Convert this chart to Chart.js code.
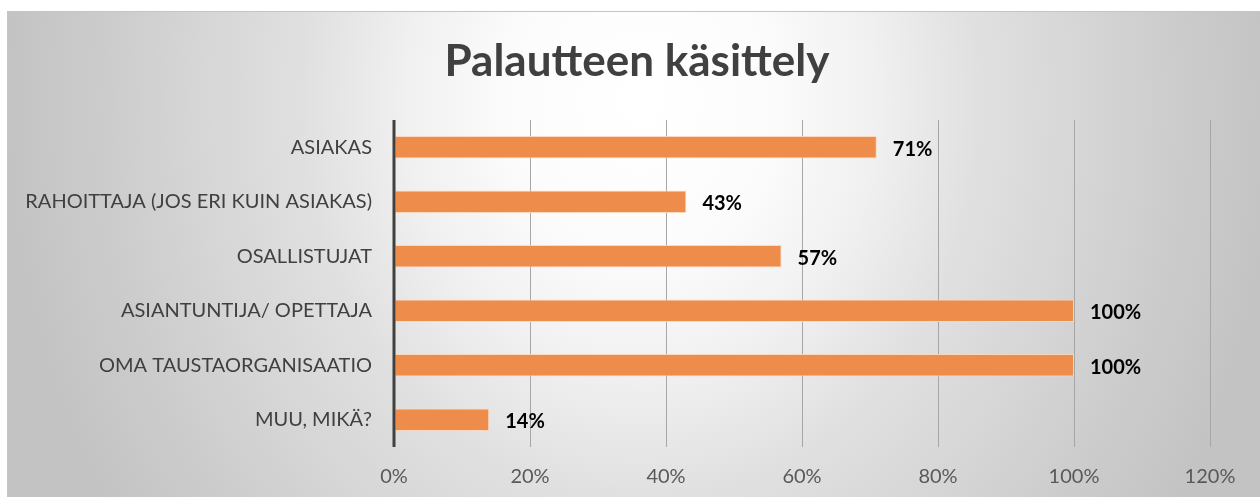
<!DOCTYPE html>
<html>
<head>
<meta charset="utf-8">
<script src="https://cdn.jsdelivr.net/npm/chart.js@4.4.1/dist/chart.umd.min.js"></script>
<style>
  html, body { margin: 0; padding: 0; background: #fff; width: 1260px; height: 497px; overflow: hidden; }
  #bg { position: absolute; left: 7px; top: 11px; width: 1253px; height: 486px;
        border-top: 1px solid #c4c4c4; border-left: 1px solid #c4c4c4; box-sizing: border-box;
        background: radial-gradient(ellipse 640px 750px at 633px 89px, #ffffff 0%, #fcfcfc 20%, #f0f0f0 37%, #e0e0e0 53%, #d6d6d6 69%, #cccccc 84%, #c3c3c3 100%); }
  #wrap { position: absolute; left: 0; top: 0; width: 1260px; height: 497px; }
  canvas { display: block; }
</style>
</head>
<body>
<div id="bg"></div>
<div id="wrap"><canvas id="c" width="1260" height="497" style="width:1260px;height:497px"></canvas></div>
<script>
const titleText = "Palautteen käsittely";
const categories = ["ASIAKAS", "RAHOITTAJA (JOS ERI KUIN ASIAKAS)", "OSALLISTUJAT", "ASIANTUNTIJA/ OPETTAJA", "OMA TAUSTAORGANISAATIO", "MUU, MIKÄ?"];
const values = [71, 43, 57, 100, 100, 14];
const tickValues = [0, 20, 40, 60, 80, 100, 120];

const FONT = "Lato, 'Open Sans', sans-serif";

const titlePlugin = {
  id: 'titlePlugin',
  afterDraw(chart) {
    const ctx = chart.ctx;
    ctx.save();
    ctx.font = "bold 44px " + FONT;
    ctx.fillStyle = "#404040";
    ctx.textAlign = "center";
    ctx.textBaseline = "middle";
    ctx.fillText(titleText, 637, 62);
    ctx.restore();
  }
};

const dataLabels = {
  id: 'dataLabels',
  afterDatasetsDraw(chart) {
    const ctx = chart.ctx;
    const meta = chart.getDatasetMeta(0);
    ctx.save();
    ctx.font = "bold 20px " + FONT;
    ctx.fillStyle = "#000";
    ctx.textAlign = "left";
    ctx.textBaseline = "middle";
    meta.data.forEach((bar, i) => {
      ctx.fillText(Math.round(values[i]) + "%", bar.x + 16, bar.y + 2);
    });
    ctx.restore();
  }
};

const yAxisLine = {
  id: 'yAxisLine',
  afterDatasetsDraw(chart) {
    const ctx = chart.ctx;
    const a = chart.chartArea;
    const x0 = chart.scales.x.getPixelForValue(0);
    ctx.save();
    ctx.strokeStyle = "#404040";
    ctx.lineWidth = 3;
    ctx.beginPath();
    ctx.moveTo(x0, a.top);
    ctx.lineTo(x0, a.bottom);
    ctx.stroke();
    ctx.restore();
  }
};

new Chart(document.getElementById('c'), {
  type: 'bar',
  data: {
    labels: categories,
    datasets: [{
      data: values,
      backgroundColor: "#ee8c4b",
      borderColor: "rgba(250,215,185,0.9)",
      borderWidth: 1,
      borderSkipped: false,
      categoryPercentage: 1.0,
      barPercentage: 0.41
    }]
  },
  options: {
    indexAxis: 'y',
    responsive: false,
    animation: false,
    devicePixelRatio: 1,
    layout: { padding: { left: 0, right: 50, top: 120, bottom: 0 } },
    plugins: {
      legend: { display: false },
      tooltip: { enabled: false },
      title: { display: false }
    },
    scales: {
      x: {
        min: 0, max: 120,
        afterBuildTicks(scale) { scale.ticks = tickValues.map(v => ({ value: v })); },
        afterFit(scale) { scale.height = 50; },
        ticks: {
          callback: v => v + "%",
          color: "#595959",
          font: { family: FONT, size: 20 },
          padding: 18
        },
        grid: { color: "#a6a6a6", lineWidth: 1, drawTicks: false },
        border: { display: false }
      },
      y: {
        afterFit(scale) { scale.width = 394; },
        ticks: {
          color: "#404040",
          font: { family: FONT, size: 20 },
          padding: 22
        },
        grid: { display: false, drawTicks: false },
        border: { display: false }
      }
    }
  },
  plugins: [dataLabels, yAxisLine, titlePlugin]
});
</script>
</body>
</html>
